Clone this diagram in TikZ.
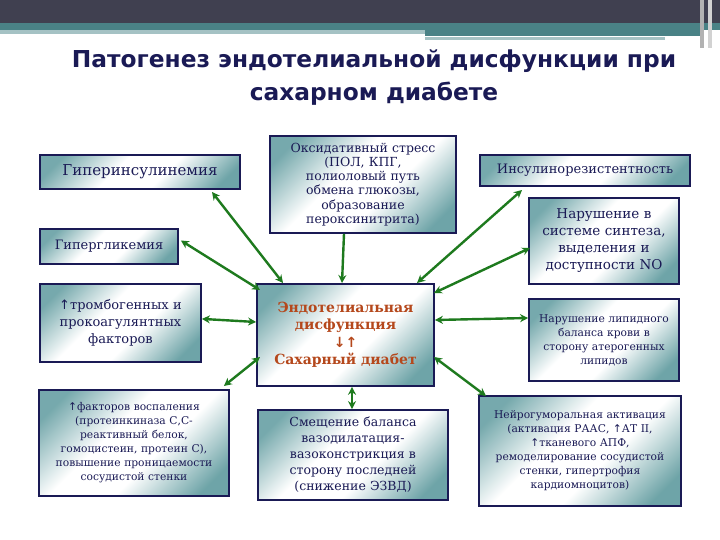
\documentclass[tikz,border=0pt]{standalone}
\usepackage{fontspec}
\setmainfont{DejaVu Serif}
\newfontfamily\titlefont{DejaVu Sans}
\newfontfamily\arr{DejaVu Sans}
\usetikzlibrary{arrows.meta}
\definecolor{navy}{HTML}{1A1A55}
\definecolor{tealc}{HTML}{5E9A9E}
\definecolor{grn}{HTML}{1E7A1E}
\definecolor{rust}{HTML}{B5481C}
\definecolor{darkbar}{HTML}{404050}
\definecolor{tealbar}{HTML}{4A8286}
\definecolor{lightbar}{HTML}{A5C2C4}
\pgfdeclarehorizontalshading{diag}{100bp}{color(0bp)=(tealc!85!white); color(22bp)=(tealc!85!white); color(42bp)=(white); color(58bp)=(white); color(78bp)=(tealc!90!white); color(100bp)=(tealc!90!white)}
\tikzset{
 bx/.style={draw=navy,line width=1.8pt,shading=diag,shading angle=-45,align=center,text=navy,inner sep=2pt},
 con/.style={draw=grn,line width=2.4pt,{Stealth[length=8pt,width=8pt]}-{Stealth[length=8pt,width=8pt]}},
 con1/.style={draw=grn,line width=2.4pt,-{Stealth[length=8pt,width=8pt]}}
}
\begin{document}
\begin{tikzpicture}[x=1pt,y=-1pt]
\useasboundingbox (0,0) rectangle (720,540);
\fill[white] (0,0) rectangle (720,540);
\fill[darkbar] (0,0) rectangle (720,23);
\fill[tealbar] (0,23) rectangle (720,30);
\fill[lightbar] (0,30) rectangle (425,34);
\fill[tealbar] (425,30) rectangle (700,36);
\fill[lightbar] (425,37) rectangle (665,40);
\fill[gray!60] (700,0) rectangle (704,48);
\fill[gray!35] (708,0) rectangle (712,48);
\node[font=\titlefont\bfseries\fontsize{23.3}{33}\selectfont,text=navy,align=center] (title) at (374,78) {Патогенез эндотелиальной дисфункции при\\сахарном диабете};
% boxes
\node[bx,minimum width=200pt,minimum height=34pt,font=\fontsize{15}{17}\selectfont] (hi) at (140,172) {Гиперинсулинемия};
\node[bx,minimum width=138pt,minimum height=35pt,font=\fontsize{13}{15}\selectfont] (hg) at (109,246.5) {Гипергликемия};
\node[bx,minimum width=161pt,minimum height=78pt,text width=157pt,font=\fontsize{13}{17}\selectfont,anchor=north] (tr) at (120.5,283) {{\arr↑}тромбогенных и\\прокоагулянтных\\факторов\\[14pt]};
\node[bx,minimum width=188pt,minimum height=106pt,text width=186pt,font=\fontsize{10.7}{14}\selectfont,anchor=north] (vo) at (134,389) {{\arr↑}факторов воспаления\\(протеинкиназа С,С-\\реактивный белок,\\гомоцистеин, протеин С),\\повышение проницаемости\\сосудистой стенки\\[14pt]};
\node[bx,minimum width=186pt,minimum height=97pt,text width=182pt,font=\fontsize{12.5}{14.3}\selectfont,anchor=north] (ox) at (363,135) {Оксидативный стресс\\(ПОЛ, КПГ,\\полиоловый путь\\обмена глюкозы,\\образование\\пероксинитрита)\\[9pt]};
\node[bx,minimum width=175pt,minimum height=102pt,text width=173pt,font=\bfseries\fontsize{14}{17.5}\selectfont,text=rust,anchor=north] (ed) at (345.5,283) {Эндотелиальная\\дисфункция\\{\arr↓↑}\\Сахарный диабет\\[14pt]};
\node[bx,minimum width=190pt,minimum height=90pt,text width=186pt,font=\fontsize{12.5}{16}\selectfont] (sm) at (353,455) {Смещение баланса\\вазодилатация-\\вазоконстрикция в\\сторону последней\\(снижение ЭЗВД)};
\node[bx,minimum width=210pt,minimum height=31pt,font=\fontsize{13}{15}\selectfont] (ir) at (585,170.5) {Инсулинорезистентность};
\node[bx,minimum width=148pt,minimum height=86pt,text width=146pt,font=\fontsize{13.5}{17}\selectfont] (no) at (604,241) {Нарушение в\\системе синтеза,\\выделения и\\доступности NO};
\node[bx,minimum width=148pt,minimum height=82pt,text width=146pt,font=\fontsize{10.7}{14}\selectfont,anchor=north] (li) at (604,298) {Нарушение липидного\\баланса крови в\\сторону атерогенных\\липидов\\[10pt]};
\node[bx,minimum width=200pt,minimum height=110pt,text width=198pt,font=\fontsize{10.7}{14}\selectfont,anchor=north] (ne) at (580,395) {Нейрогуморальная активация\\(активация РААС, {\arr↑}АТ II,\\{\arr↑}тканевого АПФ,\\ремоделирование сосудистой\\стенки, гипертрофия\\кардиомноцитов)\\[8pt]};
% connectors
\coordinate (e1) at (283,283); \coordinate (s1) at (212,192);
\draw[con] (s1) -- (e1);
\draw[con] (hg.east) ++(2,-6) coordinate (s2) -- (260,290) coordinate (e2);
\draw[con] (tr.east) ++(0,-4) -- (ed.west |- 0,322);
\draw[con] (vo.north east) ++(-6,-3) -- (260,357);
\draw[con1] (ox.south -| 344,0) -- (ed.north -| 342,0);
\draw[con] (ed.south -| 352,0) -- (sm.north -| 352,0);
\draw[con] (522,190) -- (417,283);
\draw[con] (530,248) -- (434,293);
\draw[con] (li.west |- 0,318) -- (ed.east |- 0,320);
\draw[con] (486,396) -- (434,357);
\end{tikzpicture}
\end{document}
